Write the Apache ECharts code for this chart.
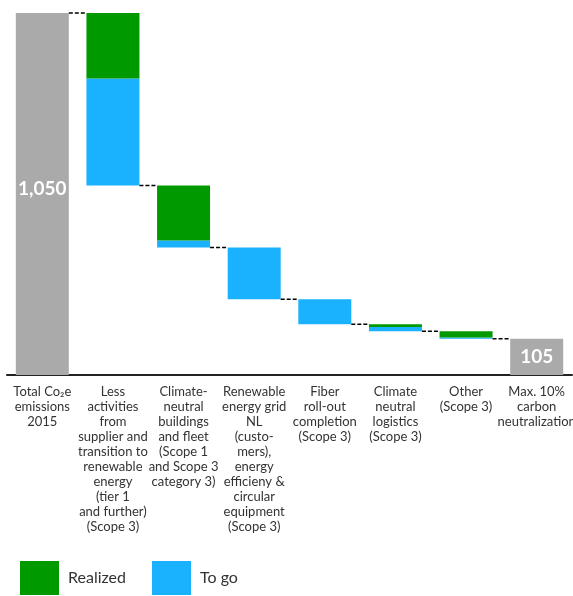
<!DOCTYPE html>
<html>
<head>
<meta charset="utf-8">
<style>
  html, body { margin: 0; padding: 0; background: #fff; }
  #chart { width: 573px; height: 596px; }
</style>
<script src="https://cdn.jsdelivr.net/npm/echarts@6/dist/echarts.min.js"></script>
</head>
<body>
<div id="chart"></div>
<script>
// categories (axis labels)
const categories = [
  'Total Co\u2082e\nemissions\n2015',
  'Less\nactivities\nfrom\nsupplier and\ntransition to\nrenewable\nenergy\n(tier 1\nand further)\n(Scope 3)',
  'Climate-\nneutral\nbuildings\nand fleet\n(Scope 1\nand Scope 3\ncategory 3)',
  'Renewable\nenergy grid\nNL\n(custo-\nmers),\nenergy\nefficieny &\ncircular\nequipment\n(Scope 3)',
  'Fiber\nroll-out\ncompletion\n(Scope 3)',
  'Climate\nneutral\nlogistics\n(Scope 3)',
  'Other\n(Scope 3)',
  'Max. 10%\ncarbon\nneutralization'
];

// start total and reduction steps
const startTotal = 1050;
const realized = [null, 190, 160, 0, 0, 8, 18, null];
const toGo = [null, 310, 20, 150, 73, 12, 4, null];

// derived waterfall levels
const levels = [startTotal];
for (let i = 1; i < categories.length - 1; i++) {
  levels.push(levels[i - 1] - realized[i] - toGo[i]);
}
const endTotal = levels[levels.length - 1];

const baseData = categories.map((c, i) =>
  (i === 0 || i === categories.length - 1) ? 0 : levels[i]);
const totalData = categories.map((c, i) =>
  i === 0 ? startTotal : (i === categories.length - 1 ? endTotal : '-'));
const toGoData = toGo.map(v => v === null || v === 0 ? '-' : v);
const realizedData = realized.map(v => v === null || v === 0 ? '-' : v);
// connector level between bar i and i+1
const connectors = levels.map((v, i) => [i, v]);

const BAR_W = 53;
const chart = echarts.init(document.getElementById('chart'));

chart.setOption({
  animation: false,
  textStyle: { fontFamily: 'Lato, "Noto Sans", sans-serif' },
  grid: { left: 7, right: 1, top: 11, bottom: 221, outerBoundsMode: 'none', containLabel: false },
  legend: {
    data: ['Realized', 'To go'],
    left: 20,
    top: 561,
    padding: 0,
    icon: 'rect',
    itemWidth: 39,
    itemHeight: 34,
    itemGap: 26,
    textStyle: { fontSize: 16, color: '#333', padding: [0, 0, 0, 4] }
  },
  xAxis: {
    type: 'category',
    data: categories,
    axisLine: { lineStyle: { color: '#222', width: 2 } },
    axisTick: { show: false },
    axisLabel: {
      interval: 0,
      margin: 9,
      color: '#333',
      fontSize: 13,
      lineHeight: 15,
      align: 'center',
      verticalAlign: 'top',
      hideOverlap: false
    }
  },
  yAxis: {
    type: 'value',
    min: 0,
    max: 1056,
    show: false,
    splitLine: { show: false }
  },
  series: [
    {
      name: 'base',
      type: 'bar',
      stack: 'w',
      barWidth: BAR_W,
      itemStyle: { color: 'transparent' },
      emphasis: { disabled: true },
      data: baseData
    },
    {
      name: 'Total',
      type: 'bar',
      stack: 'w',
      barWidth: BAR_W,
      itemStyle: { color: '#aaaaaa' },
      label: {
        show: true,
        position: 'inside',
        color: '#fff',
        fontSize: 19,
        fontWeight: 'bold',
        formatter: p => p.value.toLocaleString('en-US')
      },
      data: totalData.map((v, i) => i === 0 ? { value: v, label: { offset: [0, -5] } } : v)
    },
    {
      name: 'To go',
      type: 'bar',
      stack: 'w',
      barWidth: BAR_W,
      itemStyle: { color: '#1ab2ff' },
      data: toGoData
    },
    {
      name: 'Realized',
      type: 'bar',
      stack: 'w',
      barWidth: BAR_W,
      itemStyle: { color: '#009900' },
      data: realizedData
    },
    {
      name: 'connectors',
      type: 'custom',
      silent: true,
      z: 5,
      data: connectors,
      renderItem: function (params, api) {
        const p = api.coord([api.value(0), api.value(1)]);
        const step = api.size([1, 0])[0];
        return {
          type: 'line',
          shape: {
            x1: p[0] + BAR_W / 2,
            y1: p[1],
            x2: p[0] + step - BAR_W / 2,
            y2: p[1]
          },
          style: { stroke: '#000', lineWidth: 1.5, lineDash: [4, 2] }
        };
      }
    }
  ]
});
</script>
</body>
</html>
